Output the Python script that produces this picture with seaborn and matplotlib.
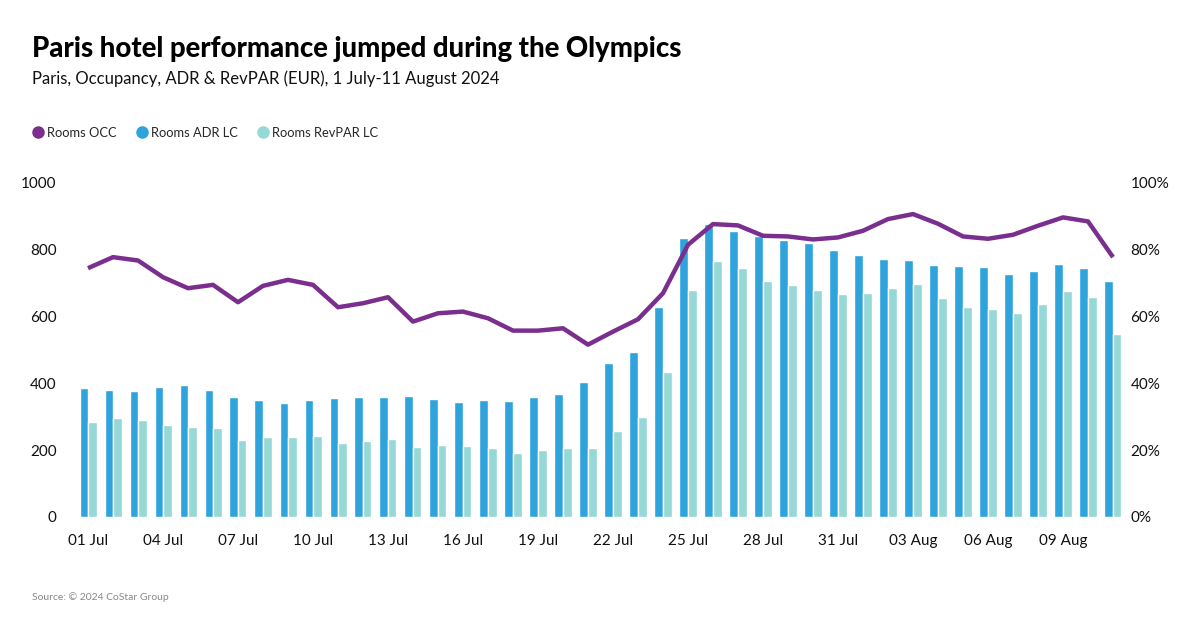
import numpy as np
import pandas as pd
import matplotlib
matplotlib.use("Agg")
import matplotlib.pyplot as plt
from matplotlib.lines import Line2D
from matplotlib.ticker import FuncFormatter
import seaborn as sns

days = pd.date_range("2024-07-01", "2024-08-11", freq="D")

adr = [385, 381, 378, 388, 395, 381, 358, 350, 341, 349, 355, 358, 359, 362,
       353, 344, 349, 348, 359, 369, 404, 460, 493, 630, 836, 878, 855, 842,
       830, 821, 798, 785, 772, 770, 753, 751, 749, 727, 736, 758, 746, 708]

revpar = [285, 296, 290, 276, 269, 265, 230, 241, 241, 242, 221, 228, 235, 211,
          215, 212, 207, 193, 200, 207, 207, 257, 298, 434, 681, 767, 745, 707,
          694, 680, 669, 671, 687, 698, 657, 630, 623, 611, 639, 678, 659, 549]

occ = [74.5, 77.8, 76.8, 71.8, 68.5, 69.5, 64.3, 69.2, 71.0, 69.5, 62.8, 64.0,
       65.8, 58.5, 61.0, 61.5, 59.5, 55.8, 55.8, 56.5, 51.6, 55.5, 59.2, 67.0,
       81.5, 87.7, 87.3, 84.2, 84.0, 83.1, 83.7, 85.7, 89.2, 90.7, 87.8, 84.0,
       83.3, 84.5, 87.2, 89.7, 88.5, 77.8]

C_OCC = "#7a2e8e"
C_ADR = "#2ea3dc"
C_REV = "#96d8d5"

labels = [d.strftime("%d %b") for d in days]
bars = pd.DataFrame({
    "day": labels * 2,
    "metric": ["Rooms ADR LC"] * len(adr) + ["Rooms RevPAR LC"] * len(revpar),
    "value": adr + revpar,
})
line = pd.DataFrame({"x": np.arange(len(occ)), "occ": occ})

sns.set_style("white")
plt.rcParams["font.family"] = ["Lato", "DejaVu Sans"]

fig = plt.figure(figsize=(12, 6.28), dpi=100)
ax = fig.add_axes([70.5 / 1200, 111 / 628, 1060 / 1200, 334 / 628])

sns.barplot(data=bars, x="day", y="value", hue="metric", order=labels,
            hue_order=["Rooms ADR LC", "Rooms RevPAR LC"],
            palette=[C_ADR, C_REV], width=0.68, saturation=1,
            legend=False, ax=ax)
ax.set_ylim(0, 1000)
ax.set_yticks(range(0, 1001, 200))
ax.set_xlim(-0.7, len(labels) - 0.3)
ax.set_xticks(range(0, len(labels), 3))
ax.set_xticklabels(labels[::3])
ax.set_xlabel("")
ax.set_ylabel("")
ax.tick_params(axis="both", length=0, labelsize=11, colors="#111111")
ax.tick_params(axis="x", pad=12)
ax.tick_params(axis="y", pad=10)

ax2 = ax.twinx()
sns.lineplot(data=line, x="x", y="occ", color=C_OCC, lw=3.2, ax=ax2)
ax2.lines[0].set_solid_joinstyle("round")
ax2.lines[0].set_solid_capstyle("butt")
ax2.set_ylim(0, 100)
ax2.set_yticks(range(0, 101, 20))
ax2.yaxis.set_major_formatter(FuncFormatter(lambda v, p: f"{v:.0f}%"))
ax2.set_ylabel("")
ax2.set_xlabel("")
ax2.tick_params(axis="y", length=0, labelsize=11, colors="#111111", pad=0)

for a in (ax, ax2):
    for s in a.spines.values():
        s.set_visible(False)

fig.text(32 / 1200, 1 - 49 / 628, "Paris hotel performance jumped during the Olympics",
         fontsize=19.8, fontweight="black", va="center", color="#000000")
fig.text(32 / 1200, 1 - 79 / 628, "Paris, Occupancy, ADR & RevPAR (EUR), 1 July-11 August 2024",
         fontsize=12, va="center", color="#111111")
fig.text(32 / 1200, 1 - 597 / 628, "Source: © 2024 CoStar Group",
         fontsize=7.5, va="center", color="#888888")

handles = [Line2D([], [], marker="o", ls="", color=c, markersize=8)
           for c in (C_OCC, C_ADR, C_REV)]
fig.legend(handles, ["Rooms OCC", "Rooms ADR LC", "Rooms RevPAR LC"],
           loc="center left", bbox_to_anchor=(20 / 1200, 1 - 133 / 628),
           ncol=3, frameon=False, fontsize=9.3, handletextpad=0.2,
           columnspacing=1.45, handlelength=1.0)

fig.savefig("out.png", dpi=100)
